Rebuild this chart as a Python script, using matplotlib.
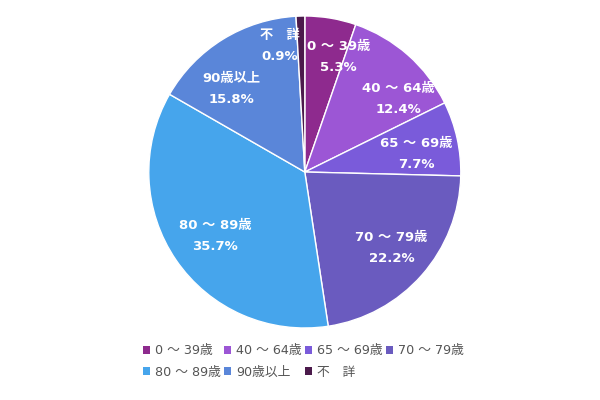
import numpy as np
import matplotlib.pyplot as plt
from matplotlib.patches import Patch

plt.rcParams['font.family'] = ['DejaVu Sans', 'Noto Sans CJK JP']

labels = ['0 ～ 39歳', '40 ～ 64歳', '65 ～ 69歳', '70 ～ 79歳', '80 ～ 89歳', '90歳以上', '不　詳']
values = [5.3, 12.4, 7.7, 22.2, 35.7, 15.8, 0.9]
colors = ['#8e2a8e', '#9c56d5', '#7a5bda', '#6a5bbf', '#46a5ec', '#5a86d9', '#4b1a4b']

fig = plt.figure(figsize=(6, 4), dpi=100)
ax = fig.add_axes([0.248, 0.18, 0.52, 0.78])

wedges, texts = ax.pie(values, colors=colors, startangle=90, counterclock=False,
                       wedgeprops=dict(edgecolor='white', linewidth=1))

# labels are shifted a bit off the mid-angle so neighbours don't collide
nudge = {0: (0.094, 0.005), 1: (0.11, -0.085), 2: (-0.01, -0.045),
         4: (0.035, 0.01), 5: (-0.08, -0.10), 6: (-0.14, 0.07)}
for i, (w, lab, v) in enumerate(zip(wedges, labels, values)):
    ang = np.deg2rad((w.theta1 + w.theta2) / 2)
    r = 0.74
    x, y = r * np.cos(ang), r * np.sin(ang)
    dx, dy = nudge.get(i, (0, 0))
    ax.text(x + dx, y + dy, lab + '\n' + f'{v:.1f}%', ha='center', va='center',
            color='white', fontsize=9.5, fontweight='bold', linespacing=1.8)
ax.set_xlim(-1, 1)
ax.set_ylim(-1, 1)
ax.set_aspect('equal')

# legend reads row by row, matplotlib fills column by column
order = [0, 4, 1, 5, 2, 6, 3]
handles = [Patch(facecolor=colors[i], edgecolor='none') for i in order]
fig.legend(handles, [labels[i] for i in order], loc='upper left',
           bbox_to_anchor=(0.228, 0.155), ncol=4, frameon=False, fontsize=9.2,
           handlelength=0.55, handleheight=0.55, handletextpad=0.35,
           columnspacing=0.3, labelspacing=0.65, labelcolor='#555555',
           borderpad=0)

plt.savefig('out.png')
